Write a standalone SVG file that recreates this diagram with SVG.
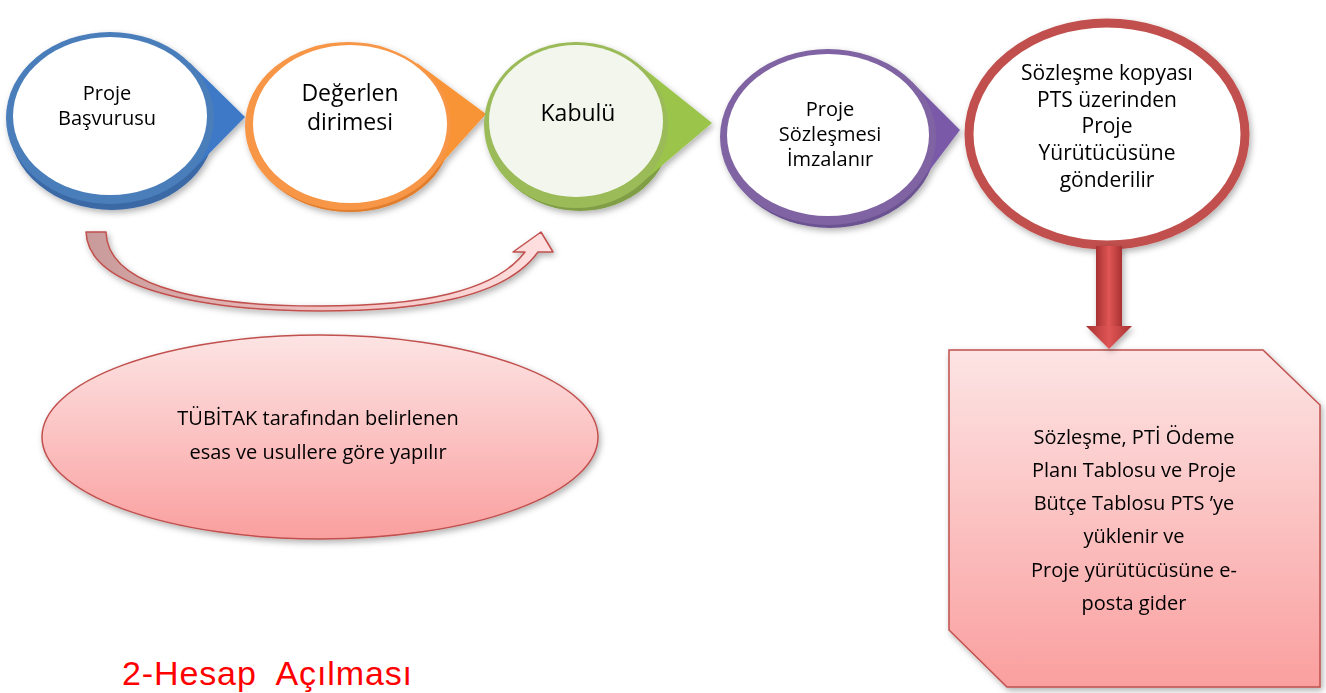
<svg xmlns="http://www.w3.org/2000/svg" width="1326" height="693" viewBox="0 0 1326 693">
<defs>
<linearGradient id="pinkV" x1="0" y1="0" x2="0" y2="1">
<stop offset="0" stop-color="#fde4e4"/><stop offset="1" stop-color="#fa9f9f"/>
</linearGradient>
<linearGradient id="curveG" x1="0" y1="0" x2="1" y2="0">
<stop offset="0" stop-color="#c99a9a"/><stop offset="0.5" stop-color="#f0c0c0"/><stop offset="1" stop-color="#ffe0e0"/>
</linearGradient>
<linearGradient id="redH" x1="0" y1="0" x2="1" y2="0">
<stop offset="0" stop-color="#a83232"/><stop offset="0.5" stop-color="#e05555"/><stop offset="1" stop-color="#a83232"/>
</linearGradient>
<filter id="sh" x="-10%" y="-10%" width="130%" height="130%">
<feDropShadow dx="2" dy="3" stdDeviation="3" flood-color="#000" flood-opacity="0.3"/>
</filter>
</defs>
<style>
.t{font-family:"Open Sans","Liberation Sans",sans-serif;fill:#000;text-anchor:middle}
.s20{font-size:20px}
.s21{font-size:21px}
.s22{font-size:23px}
.s18{font-size:20px}
.inner{fill:#fff}
</style>

<g id="node-basvuru" filter="url(#sh)">
<ellipse cx="112" cy="125" rx="103" ry="85" fill="#3a69a6"/>
<polygon points="190,63 245,117 191,172" fill="#3d79c6"/>
<ellipse cx="110" cy="118" rx="104" ry="86" fill="#4a7ebb"/>
<ellipse cx="110" cy="116" rx="97" ry="79" class="inner"/>
<text class="t s20" x="107" y="100">Proje</text>
<text class="t s20" x="107" y="125">Başvurusu</text>
</g>

<g id="node-degerlendirme" filter="url(#sh)">
<ellipse cx="350" cy="132" rx="101" ry="80" fill="#e07e2e"/>
<polygon points="417,63 486,114 431,175" fill="#f89436"/>
<ellipse cx="348" cy="126" rx="103" ry="84" fill="#f79646"/>
<ellipse cx="350" cy="124" rx="97" ry="79" class="inner"/>
<text class="t s22" x="350" y="101">Değerlen</text>
<text class="t s22" x="350" y="130">dirimesi</text>
</g>

<g id="node-kabul" filter="url(#sh)">
<ellipse cx="580" cy="133" rx="90" ry="78" fill="#7f9e45"/>
<polygon points="637,63 712,123 639,185" fill="#9bc44c"/>
<ellipse cx="576" cy="125" rx="92" ry="83" fill="#9bbb59"/>
<ellipse cx="576" cy="121" rx="87" ry="76" fill="#f3f6ec"/>
<text class="t s22" x="578" y="121">Kabulü</text>
</g>

<g id="node-sozlesme" filter="url(#sh)">
<ellipse cx="830" cy="142" rx="106" ry="86" fill="#6a5290"/>
<polygon points="912,82 960,130 920,183" fill="#7a5aa8"/>
<ellipse cx="828" cy="137" rx="108" ry="88" fill="#8064a2"/>
<ellipse cx="828" cy="135" rx="101" ry="81" class="inner"/>
<text class="t s20" x="830" y="116">Proje</text>
<text class="t s20" x="830" y="141">Sözleşmesi</text>
<text class="t s20" x="830" y="166">İmzalanır</text>
</g>

<g id="node-kopya" filter="url(#sh)">
<ellipse cx="1107" cy="134" rx="138" ry="111" fill="#fff" stroke="#c0504d" stroke-width="9"/>
<text class="t s21" x="1107" y="80">Sözleşme kopyası</text>
<text class="t s21" x="1107" y="107">PTS üzerinden</text>
<text class="t s21" x="1107" y="133">Proje</text>
<text class="t s21" x="1107" y="160">Yürütücüsüne</text>
<text class="t s21" x="1107" y="187">gönderilir</text>
</g>

<g id="node-tubitak" filter="url(#sh)">
<ellipse cx="320" cy="437" rx="278" ry="102" fill="url(#pinkV)" stroke="#c0504d" stroke-width="1.5"/>
<text class="t s18" x="318" y="425">TÜBİTAK tarafından belirlenen</text>
<text class="t s18" x="318" y="459">esas ve usullere göre yapılır</text>
</g>

<g id="node-pts" filter="url(#sh)">
<polygon points="949,350 1263,350 1320,405 1320,687 1007,687 949,630" fill="url(#pinkV)" stroke="#c0504d" stroke-width="1.5"/>
<text class="t s18" x="1134" y="444">Sözleşme, PTİ Ödeme</text>
<text class="t s18" x="1134" y="477">Planı Tablosu ve Proje</text>
<text class="t s18" x="1134" y="510">Bütçe Tablosu PTS ’ye</text>
<text class="t s18" x="1134" y="543">yüklenir ve</text>
<text class="t s18" x="1134" y="577">Proje yürütücüsüne e-</text>
<text class="t s18" x="1134" y="610">posta gider</text>
</g>

<g id="connectors">
<path filter="url(#sh)" d="M86,232 L106,232 C108,292 220,306 320,306 C420,306 495,292 525,252 L513,252 L541,232 L553,252 L538,252 C505,298 420,311 320,311 C215,311 88,292 86,232 Z" fill="url(#curveG)" stroke="#c0504d" stroke-width="1.5" stroke-linejoin="round"/>
<g filter="url(#sh)">
<rect x="1096" y="246" width="26" height="82" fill="url(#redH)"/>
<polygon points="1086,326 1132,326 1109,349" fill="url(#redH)"/>
</g>
</g>

<text x="122" y="685" font-family="'Liberation Sans',sans-serif" font-size="34" fill="#ff0000" textLength="290" xml:space="preserve">2-Hesap  Açılması</text>
</svg>
